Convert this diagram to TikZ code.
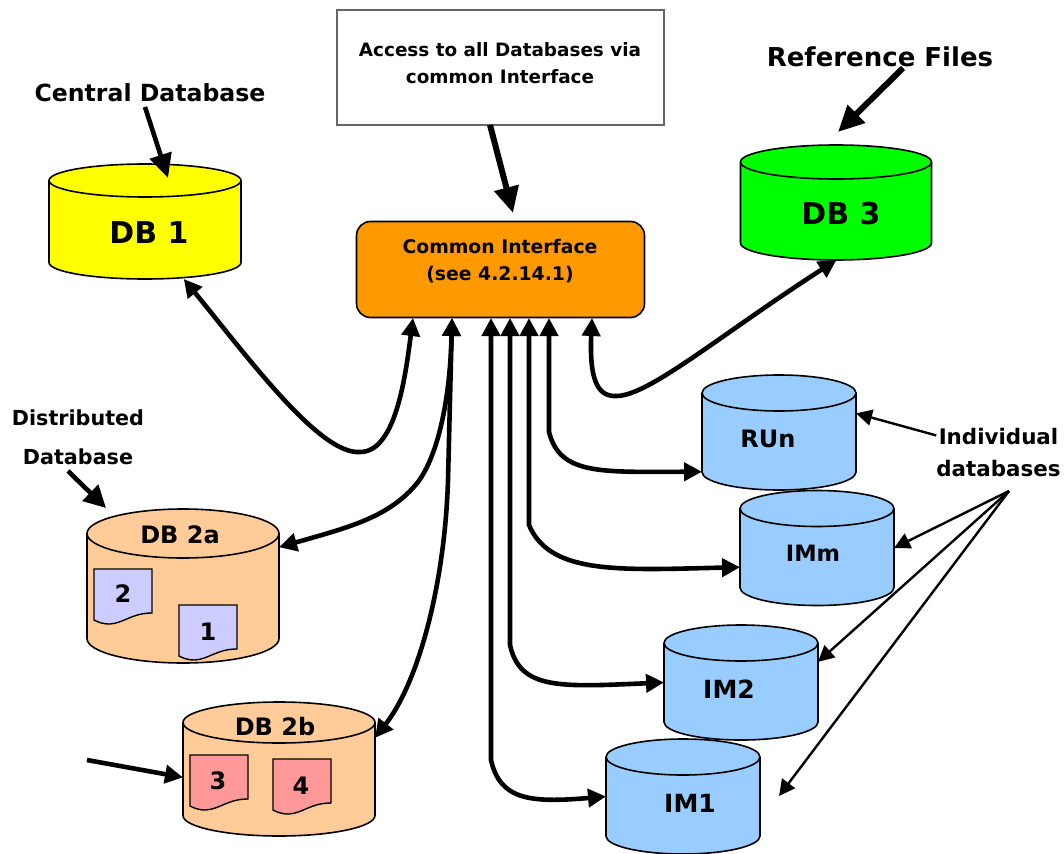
\documentclass[tikz,border=0pt]{standalone}
\usepackage{fontspec}
\setmainfont{DejaVu Sans}
\usetikzlibrary{arrows.meta}
\definecolor{dbyellow}{HTML}{FFFF00}
\definecolor{dbgreen}{HTML}{00FF00}
\definecolor{dbpeach}{HTML}{FFCC99}
\definecolor{dbblue}{HTML}{99CCFF}
\definecolor{cifill}{HTML}{FF9900}
\definecolor{sheetblue}{HTML}{CCCCFF}
\definecolor{sheetred}{HTML}{FF9999}
\tikzset{>={Triangle[length=18pt, width=18pt]}}
\tikzset{
  txt/.style = {font = \bfseries\fontsize{#1}{#1}\selectfont, inner sep = 0pt},
  db/.style = {inner sep = 0pt, outer sep = 0pt, minimum width = 192pt},
  imdb/.style = {db, minimum width = 154pt, minimum height = 115pt},
  link/.style = {line width = 4.6pt},
  fatlink/.style = {line width = 6pt, -{Triangle[length = 26pt, width = 24pt]}},
  thinlink/.style = {line width = 2.4pt, -{Triangle[length = 16pt, width = 16pt]}},
}

\begin{document}
\begin{tikzpicture}[x = 1pt, y = -1pt]
\useasboundingbox (0, 0) rectangle (1064, 853);

% databases
\node[db, minimum height = 115pt] (db1) at (145, 221.5) {};
\node[db, minimum height = 115pt] (db3) at (836.5, 202.5) {};
\node[db, minimum height = 154pt] (db2a) at (183, 586) {};
\node[db, minimum height = 134pt] (db2b) at (279, 769) {};
\node[imdb] (run) at (779, 432.5) {};
\node[imdb] (imm) at (817, 548) {};
\node[imdb] (imtwo) at (741, 682.5) {};
\node[imdb] (imone) at (683, 796.5) {};

\foreach \n/\rx/\ry/\h/\c in {db1/96/16.5/82/dbyellow, db3/95.5/17/81/dbgreen, db2a/96/24.5/105/dbpeach, db2b/96/20.5/93/dbpeach, run/77/18/79/dbblue, imone/77/18/79/dbblue, imtwo/77/18/79/dbblue, imm/77/18/79/dbblue}{
  \draw[fill = \c, line width = 1.6pt] (\n.north west) ++(0, \ry) -- ++(0, \h) arc[start angle = 180, end angle = 360, x radius = \rx pt, y radius = \ry pt] -- ++(0, -\h) arc[start angle = 0, end angle = 180, x radius = \rx pt, y radius = \ry pt] -- cycle;
  \draw[line width = 1.6pt] (\n.north west) ++(0, \ry) arc[start angle = 180, end angle = 360, x radius = \rx pt, y radius = \ry pt];
}

% boxes
\node[draw = black!60, line width = 1.4pt, fill = white, minimum width = 327pt, minimum height = 115pt, inner sep = 0pt] (access) at (500.5, 67.5) {};
\node[draw = black, line width = 1.6pt, rounded corners = 14pt, fill = cifill, minimum width = 288pt, minimum height = 96pt, inner sep = 0pt] (ci) at (500.5, 269.5) {};

% sheets
\foreach \n/\x/\y/\c in {1/179/605/sheetblue, 2/94/569/sheetblue, 3/190/755/sheetred, 4/273/759/sheetred}{
  \draw[fill = \c, line width = 1.4pt, shift = {(\x, \y)}] (0, 0) -- (58, 0) -- (58, 44) .. controls (38, 44) and (30, 54) .. (16, 55) .. controls (8, 55) and (4, 53) .. (0, 51) -- cycle;
}

% labels
\node[txt = 30] (lab1) at (149, 233) {DB 1};
\node[txt = 30] (lab3) at (841, 214) {DB 3};
\node[txt = 24] (lab2a) at (180, 535) {DB 2a};
\node[txt = 24] (lab2b) at (275, 727) {DB 2b};
\node[txt = 24] (labrun) at (768, 439) {RUn};
\node[txt = 22.5] (labimm) at (813, 553) {IMm};
\node[txt = 25] (labtwo) at (729, 689) {IM2};
\node[txt = 25] (labone) at (690, 803) {IM1};
\foreach \n/\x/\y in {1/208/632, 2/123/594, 3/218/781, 4/301/786}{\node[txt = 24] (num\n) at (\x, \y) {\n};}

\node[txt = 18.4, align = center] (accesstext) at (500, 63) {Access to all Databases via\\[8pt]common Interface};
\node[txt = 18.8, align = center] (citext) at (500, 261) {Common Interface\\[8pt](see 4.2.14.1)};
\node[txt = 26] (reffiles) at (880, 57) {Reference Files};
\node[txt = 23.6] (central) at (150, 93) {Central Database};
\node[txt = 20.7, align = center] (distrib) at (78, 437.5) {Distributed\\[18pt]Database};
\node[txt = 21.4, align = center] (indiv) at (998.5, 452.5) {Individual\\[10pt]databases};

% ports on the common interface
\foreach \n/\x in {a/413, b/452, c/491, d/510, e/529, f/549, g/592}{\coordinate (port\n) at (\x, 318);}
\coordinate (accessout) at (490, 125);
\coordinate (citop) at (513, 213);
\coordinate (centralout) at (145, 107);
\coordinate (centralin) at (168, 178);
\coordinate (refout) at (903, 68);
\coordinate (refin) at (838, 132);
\coordinate (distribout) at (68, 471);
\coordinate (distribin) at (106, 508);
\coordinate (feedin) at (87, 760);
\coordinate (fan) at (1009, 491);
\coordinate (faroff) at (779, 796);

\draw[link, <->] (db1.-56) .. controls (250, 360) and (320, 455) .. (360, 452) .. controls (395, 452) and (405, 380) .. (porta);
\draw[link, <->] (db2a.22) .. controls (350, 527) and (390, 517) .. (418, 482) .. controls (438, 455) and (450, 400) .. (portb);
\draw[link, <->] (db2b.18) .. controls (420, 680) and (445, 580) .. (448, 480) -- (portb);
\draw[link, <->] (portg) .. controls (589, 385) and (600, 397) .. (617, 396) .. controls (650, 395) and (720, 335) .. (db3.south);

\draw[link, <->] (portc) -- (491, 760) .. controls (500, 800) and (530, 803) .. (imone.west);
\draw[link, <->] (portd) -- (510, 645) .. controls (520, 690) and (560, 687) .. (imtwo.west);
\draw[link, <->] (porte) -- (529, 525) .. controls (550, 575) and (620, 570) .. (imm.194);
\draw[link, <->] (portf) -- (549, 432) .. controls (560, 475) and (600, 472) .. (run.-153);

\draw[fatlink] (accessout) -- (citop);
\draw[link, -{Triangle[length = 24pt, width = 22pt]}] (centralout) -- (centralin);
\draw[fatlink] (refout) -- (refin);
\draw[link, -{Triangle[length = 22pt, width = 22pt]}] (distribout) -- (distribin);
\draw[link, -{Triangle[length = 18pt, width = 18pt]}] (feedin) -- (db2b.185);

\draw[thinlink] (indiv) -- (run.14);
\draw[thinlink] (fan) -- (imm.0);
\draw[thinlink] (fan) -- (imtwo.15);
\draw[thinlink] (fan) -- (faroff);

\end{tikzpicture}
\end{document}
